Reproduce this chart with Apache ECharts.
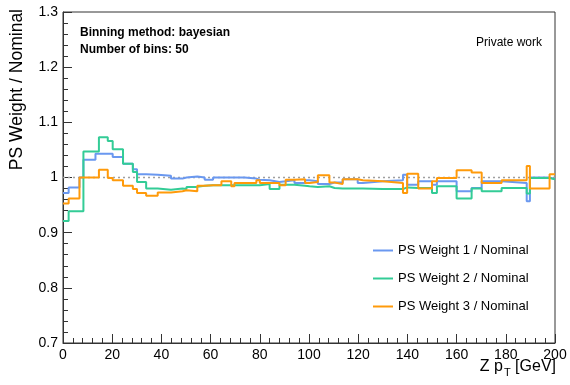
<!DOCTYPE html>
<html>
<head>
<meta charset="utf-8">
<script src="https://cdn.jsdelivr.net/npm/echarts@6/dist/echarts.min.js"></script>
<style>
  html, body { margin: 0; padding: 0; background: #fff; }
  #chart { width: 570px; height: 385px; }
</style>
</head>
<body>
<div id="chart"></div>
<script>
// Bin edges in Z pT [GeV] (50 bins, bayesian blocks)
const binEdges = [0, 2.3, 6.7, 8.3, 13.2, 14.6, 18.2, 20.2, 24.4, 28.4, 30.1, 33.8, 38.5, 43.9, 48.6,
  50.2, 54.6, 57.6, 61, 64.4, 68.4, 69.7, 73.8, 78.6, 80, 84, 88, 90.5, 94.1, 98.4,
  100.2, 103.6, 108.3, 110.4, 113.7, 119.8, 121.9, 130, 138.2, 139.9, 144.4, 150, 152, 160,
  166.1, 170.2, 178.3, 188.5, 189.8, 197.8, 200];

// Ratio of each parton-shower weight to nominal, one value per bin
const psWeight1 = [0.972, 0.982, 1.000, 1.032, 1.043, 1.043, 1.043, 1.037, 1.025, 1.015,
  1.006, 1.005, 1.003, 0.998, 1.000, 1.002, 1.000, 0.996, 1.000, 1.000,
  1.000, 1.000, 0.998, 0.996, 0.995, 0.992, 0.993, 0.995, 0.990, 0.995,
  0.993, 0.988, 0.991, 0.991, 0.997, 0.990, 0.993, 0.995, 1.005, 0.987,
  0.993, 0.987, 0.993, 0.975, 0.981, 0.993, 0.990, 0.957, 1.000, 0.997];
const psWeight2 = [0.921, 0.939, 0.939, 1.047, 1.047, 1.073, 1.066, 1.051, 1.025, 1.010,
  0.992, 0.980, 0.978, 0.980, 0.979, 0.983, 0.985, 0.986, 0.986, 0.986,
  0.986, 0.986, 0.986, 0.986, 0.988, 0.979, 0.987, 0.987, 0.985, 0.984,
  0.983, 0.984, 0.981, 0.980, 0.980, 0.980, 0.979, 0.979, 0.982, 0.981,
  0.981, 0.972, 0.984, 0.962, 0.980, 0.975, 0.981, 0.971, 0.999, 0.997];
const psWeight3 = [0.953, 0.962, 1.000, 1.000, 1.000, 1.014, 0.999, 0.995, 0.985, 0.979,
  0.972, 0.967, 0.973, 0.975, 0.977, 0.975, 0.985, 0.986, 0.986, 0.993,
  0.984, 0.990, 0.990, 0.995, 0.990, 0.990, 0.986, 0.996, 0.997, 0.990,
  0.992, 1.004, 0.991, 0.988, 0.997, 0.995, 0.993, 0.990, 0.972, 1.007,
  0.980, 0.993, 0.999, 1.013, 1.009, 0.990, 0.995, 1.021, 0.980, 1.006];

const seriesNames = ['PS Weight 1 / Nominal', 'PS Weight 2 / Nominal', 'PS Weight 3 / Nominal'];
const seriesColors = ['#6a98f0', '#33cc96', '#ff9a0a'];
const xTicks = [0, 20, 40, 60, 80, 100, 120, 140, 160, 180, 200];
const yTicks = [0.7, 0.8, 0.9, 1.0, 1.1, 1.2, 1.3];

// Histogram outline: one point per lower edge, plus the last upper edge
function histPoints(values) {
  const pts = values.map((v, i) => [binEdges[i], v]);
  pts.push([binEdges[binEdges.length - 1], values[values.length - 1]]);
  return pts;
}

const font = 'Liberation Sans, Arial, Helvetica, sans-serif';
const chart = echarts.init(document.getElementById('chart'), null, { renderer: 'canvas' });

const histSeries = [psWeight1, psWeight2, psWeight3].map((vals, k) => ({
  name: seriesNames[k],
  type: 'line',
  step: 'end',
  data: histPoints(vals),
  showSymbol: false,
  symbol: 'none',
  color: seriesColors[k],
  lineStyle: { width: 2, color: seriesColors[k] },
  z: 3 + k,
  silent: true,
  animation: false
}));

chart.setOption({
  animation: false,
  backgroundColor: '#fff',
  grid: { left: 63, right: 15, top: 12, bottom: 42, show: true, borderColor: '#333', borderWidth: 1, backgroundColor: 'transparent' },
  xAxis: {
    type: 'value', min: xTicks[0], max: xTicks[xTicks.length - 1], interval: 20,
    axisLine: { show: true, lineStyle: { color: '#333', width: 1 } },
    axisTick: { show: true, inside: true, length: 9, lineStyle: { color: '#333' } },
    minorTick: { show: true, splitNumber: 5, length: 5, lineStyle: { color: '#333' } },
    splitLine: { show: false },
    axisLabel: { color: '#000', fontSize: 14, fontFamily: font, margin: 5 }
  },
  yAxis: {
    type: 'value', min: yTicks[0], max: yTicks[yTicks.length - 1], interval: 0.1,
    axisLine: { show: true, lineStyle: { color: '#333', width: 1 } },
    axisTick: { show: true, inside: true, length: 9, lineStyle: { color: '#333' } },
    minorTick: { show: true, splitNumber: 5, length: 5, lineStyle: { color: '#333' } },
    splitLine: { show: false },
    axisLabel: { color: '#000', fontSize: 14, fontFamily: font, margin: 5,
      formatter: v => String(+v.toFixed(1)) }
  },
  legend: {
    data: seriesNames,
    orient: 'vertical',
    left: 368, top: 239,
    itemWidth: 20, itemHeight: 2, itemGap: 15,
    icon: 'rect',
    textStyle: { color: '#000', fontSize: 13, fontFamily: font },
    selectedMode: false
  },
  graphic: [
    { type: 'text', left: 80, top: 27, style: { text: 'Binning method: bayesian', font: 'bold 12px ' + font, fill: '#000' } },
    { type: 'text', left: 80, top: 44, style: { text: 'Number of bins: 50', font: 'bold 12px ' + font, fill: '#000' } },
    { type: 'text', right: 28, top: 37, style: { text: 'Private work', font: '12px ' + font, fill: '#000' } },
    { type: 'text', x: 17, y: 9, rotation: Math.PI / 2,
      style: { text: 'PS Weight / Nominal', font: '17.5px ' + font, fill: '#000', align: 'right', verticalAlign: 'middle' } },
    { type: 'text', right: 14, top: 359,
      style: {
        text: '{n|Z p}{s|T}{n| [GeV]}',
        rich: {
          n: { font: '16px ' + font, fill: '#000' },
          s: { font: '11px ' + font, fill: '#000', padding: [12, 0, 0, 1] }
        }
      } }
  ],
  series: [
    {
      name: 'unity', type: 'line', data: [[0, 1], [200, 1]], showSymbol: false, symbol: 'none',
      lineStyle: { color: '#a0a0a0', width: 1.5, type: [2, 3] }, silent: true, z: 2
    },
    ...histSeries
  ]
});
</script>
</body>
</html>
